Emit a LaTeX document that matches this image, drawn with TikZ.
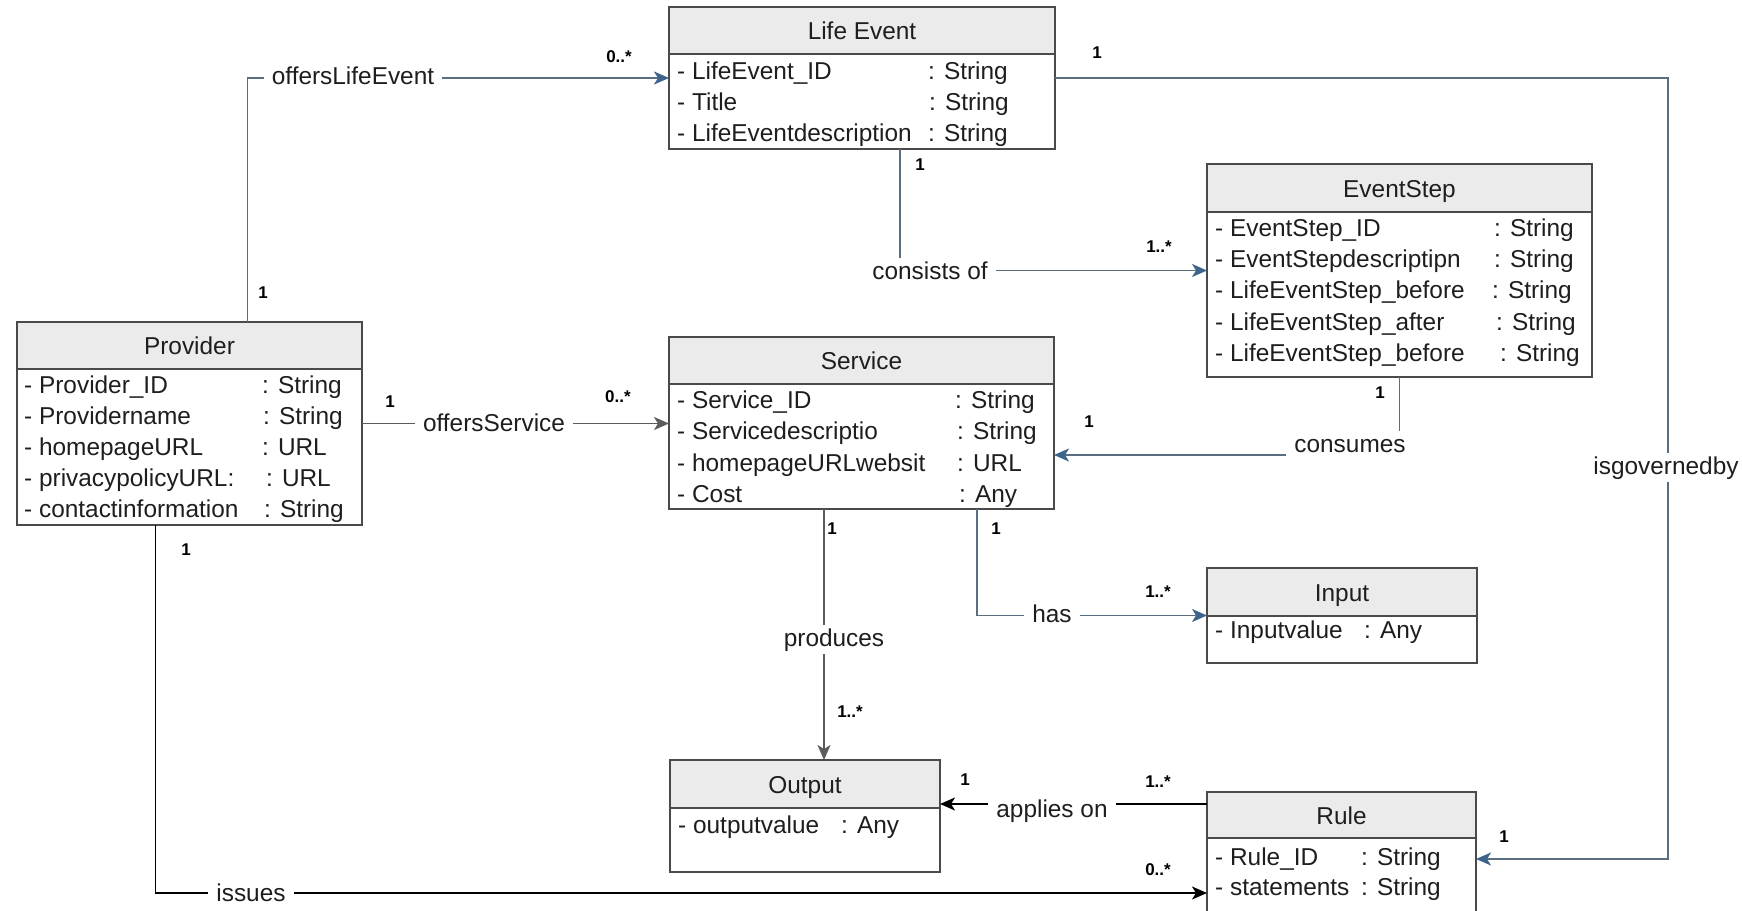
\documentclass[tikz,border=0pt]{standalone}
\usepackage{fontspec}
\setmainfont{Liberation Sans}
\usetikzlibrary{arrows.meta,fit,calc}
\definecolor{boxline}{HTML}{4A4A4A}
\definecolor{hdr}{HTML}{EBEBEB}
\definecolor{blueline}{HTML}{5A6E82}
\definecolor{bluehead}{HTML}{3D658C}
\definecolor{grayline}{HTML}{5C5C5C}
\definecolor{txt}{HTML}{1E1E1E}
\newcommand{\mainsz}{\fontsize{24.4}{29}\selectfont}
\newcommand{\multsz}{\bfseries\fontsize{17}{20}\selectfont}
\tikzset{
  cbox/.style={draw=boxline, line width=1.8pt, fill=white, inner sep=0pt, outer sep=0pt},
  hbox/.style={draw=boxline, line width=1.8pt, fill=hdr, inner sep=0pt, outer sep=0pt},
  ttl/.style={anchor=base, inner sep=0pt, font=\mainsz, text=txt},
  attr/.style={anchor=base west, inner sep=0pt, font=\mainsz, text=txt},
  lbl/.style={fill=white, anchor=base, inner xsep=8pt, inner ysep=3pt, text height=18pt, text depth=5pt, font=\mainsz, text=txt},
  mult/.style={inner sep=0pt, font=\multsz, text=black},
  bluec/.style={draw=blueline, line width=1.8pt, -{Stealth[length=15pt,width=13pt,inset=4pt,color=bluehead]}},
  grayc/.style={draw=grayline, line width=1.8pt, -{Stealth[length=15pt,width=13pt,inset=4pt,color=grayline]}},
  blackc/.style={draw=black, line width=1.8pt, -{Stealth[length=15pt,width=13pt,inset=4pt,color=black]}},
}
\newcommand{\umlbox}[7]{%
  \node[cbox, fit={(#2,#3) (#4,#6)}] (#1) {};
  \node[hbox, fit={(#2,#3) (#4,#5)}] (#1-h) {};
  \node[ttl] (#1-t) at ({(#2+#4)/2},{(#3+#5)/2+9}) {#7};
}
\begin{document}
\begin{tikzpicture}[x=1pt,y=-1pt]
\useasboundingbox[fill=white] (0,0) rectangle (1742,910);

% ---------- classes ----------
\umlbox{le}{669}{7}{1055}{54}{149}{Life Event}
\node[attr] (le-n1) at (677,79) {- LifeEvent\_ID};
\node[attr] (le-c1) at (928,79) {: String};
\node[attr] (le-n2) at (677,110) {- Title};
\node[attr] (le-c2) at (929,110) {: String};
\node[attr] (le-n3) at (677,141) {- LifeEventdescription};
\node[attr] (le-c3) at (928,141) {: String};

\umlbox{es}{1207}{164}{1592}{212}{377}{EventStep}
\node[attr] (es-n1) at (1215,236) {- EventStep\_ID};
\node[attr] (es-c1) at (1494,236) {: String};
\node[attr] (es-n2) at (1215,267) {- EventStepdescriptipn};
\node[attr] (es-c2) at (1494,267) {: String};
\node[attr] (es-n3) at (1215,298) {- LifeEventStep\_before};
\node[attr] (es-c3) at (1492,298) {: String};
\node[attr] (es-n4) at (1215,330) {- LifeEventStep\_after};
\node[attr] (es-c4) at (1496,330) {: String};
\node[attr] (es-n5) at (1215,361) {- LifeEventStep\_before};
\node[attr] (es-c5) at (1500,361) {: String};

\umlbox{pr}{17}{322}{362}{369}{525}{Provider}
\node[attr] (pr-n1) at (24,393) {- Provider\_ID};
\node[attr] (pr-c1) at (262,393) {: String};
\node[attr] (pr-n2) at (24,424) {- Providername};
\node[attr] (pr-c2) at (263,424) {: String};
\node[attr] (pr-n3) at (24,455) {- homepageURL};
\node[attr] (pr-c3) at (262,455) {: URL};
\node[attr] (pr-n4) at (24,486) {- privacypolicyURL:};
\node[attr] (pr-c4) at (266,486) {: URL};
\node[attr] (pr-n5) at (24,517) {- contactinformation};
\node[attr] (pr-c5) at (264,517) {: String};

\umlbox{sv}{669}{337}{1054}{384}{509}{Service}
\node[attr] (sv-n1) at (677,408) {- Service\_ID};
\node[attr] (sv-c1) at (955,408) {: String};
\node[attr] (sv-n2) at (677,439) {- Servicedescriptio};
\node[attr] (sv-c2) at (957,439) {: String};
\node[attr] (sv-n3) at (677,471) {- homepageURLwebsit};
\node[attr] (sv-c3) at (957,471) {: URL};
\node[attr] (sv-n4) at (677,502) {- Cost};
\node[attr] (sv-c4) at (959,502) {: Any};

\umlbox{inp}{1207}{568}{1477}{616}{663}{Input}
\node[attr] (inp-n1) at (1215,638) {- Inputvalue};
\node[attr] (inp-c1) at (1364,638) {: Any};

\umlbox{out}{670}{760}{940}{808}{872}{Output}
\node[attr] (out-n1) at (678,833) {- outputvalue};
\node[attr] (out-c1) at (841,833) {: Any};

\umlbox{ru}{1207}{792}{1476}{838}{926}{Rule}
\node[attr] (ru-n1) at (1215,865) {- Rule\_ID};
\node[attr] (ru-c1) at (1361,865) {: String};
\node[attr] (ru-n2) at (1215,895) {- statements};
\node[attr] (ru-c2) at (1361,895) {: String};

% ---------- connectors ----------
\coordinate (gov) at (1668,465);
\draw[bluec] ([xshift=58pt]pr.north) |- (le.west);
\draw[bluec] ([xshift=38pt]le.south) |- (es.west);
\draw[grayc] (pr.east) -- (pr.east -| sv.west);
\draw[bluec] (es.south) |- ([yshift=-32pt]sv.east);
\draw[bluec] ([xshift=115.5pt]sv.south) |- (inp.west);
\draw[grayc] ([xshift=-37.5pt]sv.south) -- ([xshift=-37.5pt]sv.south |- out.north);
\draw[bluec] (le.east) -| (gov) |- (ru.east);
\draw[blackc] ([yshift=55pt]ru.west) -- ([yshift=55pt]ru.west -| out.east);
\draw[blackc] ([xshift=-34pt]pr.south) |- ([yshift=-34pt]ru.west);

% ---------- association labels ----------
\node[lbl] (l-ole) at (353,84) {offersLifeEvent};
\node[lbl] (l-con) at (930,279) {consists of};
\node[lbl] (l-ose) at (494,431) {offersService};
\node[lbl] (l-cns) at (1350,452) {consumes};
\node[lbl] (l-has) at (1052,622) {has};
\node[lbl] (l-pro) at (834,646) {produces};
\node[lbl] (l-gov) at (1666,474) {isgovernedby};
\node[lbl] (l-app) at (1052,817) {applies on};
\node[lbl] (l-iss) at (251,901) {issues};

% ---------- multiplicities ----------
\node[mult] (m1) at (263,293) {1};
\node[mult] (m2) at (619,57) {0..*};
\node[mult] (m3) at (1097,53) {1};
\node[mult] (m4) at (920,165) {1};
\node[mult] (m5) at (1159,247) {1..*};
\node[mult] (m6) at (390,402) {1};
\node[mult] (m7) at (618,397) {0..*};
\node[mult] (m8) at (1380,393) {1};
\node[mult] (m9) at (1089,422) {1};
\node[mult] (m10) at (832,529) {1};
\node[mult] (m11) at (996,529) {1};
\node[mult] (m12) at (1158,592) {1..*};
\node[mult] (m13) at (850,712) {1..*};
\node[mult] (m14) at (965,780) {1};
\node[mult] (m15) at (1158,782) {1..*};
\node[mult] (m16) at (1504,837) {1};
\node[mult] (m17) at (186,550) {1};
\node[mult] (m18) at (1158,870) {0..*};
\end{tikzpicture}
\end{document}
